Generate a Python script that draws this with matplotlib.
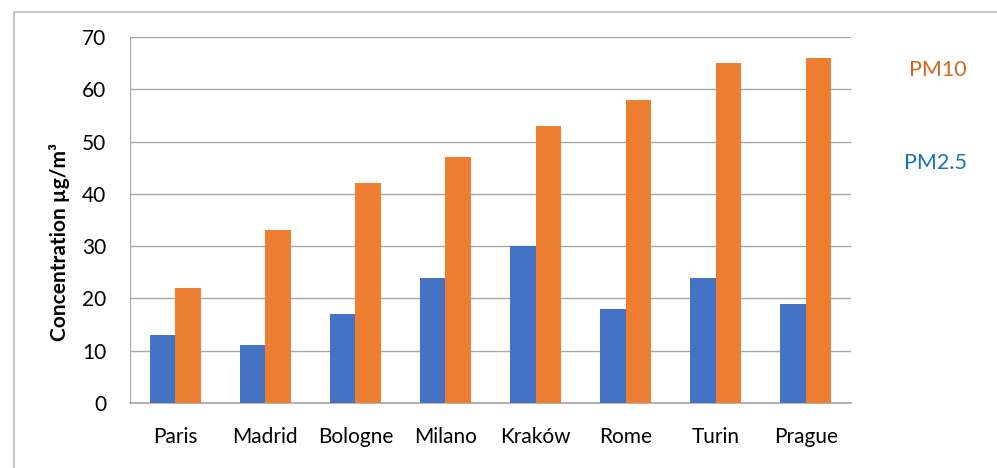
import numpy as np
import matplotlib.pyplot as plt
from matplotlib.patches import Rectangle

cities = ['Paris', 'Madrid', 'Bologne', 'Milano', 'Kraków', 'Rome', 'Turin', 'Prague']
pm25 = [13, 11, 17, 24, 30, 18, 24, 19]
pm10 = [22, 33, 42, 47, 53, 58, 65, 66]

blue = '#4472C4'
orange = '#ED7D31'
grid = '#A6A6A6'

plt.rcParams['font.family'] = ['Lato', 'DejaVu Sans']

fig = plt.figure(figsize=(9.97, 4.68), dpi=100)
ax = fig.add_axes([130 / 997, 1 - 403 / 468, 721 / 997, 366 / 468])

x = np.arange(len(cities))
w = 0.283
ax.bar(x - w / 2, pm25, width=w, color=blue, zorder=3)
ax.bar(x + w / 2, pm10, width=w, color=orange, zorder=3)

ax.set_xlim(-0.5, len(cities) - 0.5)
ax.set_ylim(0, 70)
ax.set_yticks(range(0, 71, 10))
ax.set_xticks(x)
ax.set_xticklabels(cities)
ax.tick_params(axis='both', length=0, labelsize=15, colors='black')
ax.tick_params(axis='y', pad=17)
ax.tick_params(axis='x', pad=17)
ax.yaxis.grid(True, color=grid, linewidth=1, zorder=0)

for s in ['top', 'right']:
    ax.spines[s].set_visible(False)
ax.spines['left'].set_color(grid)
ax.spines['bottom'].set_color(grid)
ax.spines['bottom'].set_linewidth(1.2)

# y axis title
fig.text(60 / 997, 1 - 242 / 468, 'Concentration µg/m³', fontsize=15, fontweight='bold',
         rotation=90, ha='center', va='center')

# series names at the right instead of a legend box
fig.text(938 / 997, 1 - 70 / 468, 'PM10', color='#D0691F', fontsize=15.5, ha='center', va='center')
fig.text(935 / 997, 1 - 163 / 468, 'PM2.5', color='#1273C4', fontsize=15.5, ha='center', va='center')

# outer frame of the chart area
fig.patches.append(Rectangle((14 / 997, -0.1), 1.2, 1 - 12 / 468 + 0.1,
                             transform=fig.transFigure, fill=False,
                             edgecolor='#BFBFBF', linewidth=1.2))

fig.savefig('out.png', dpi=100)
